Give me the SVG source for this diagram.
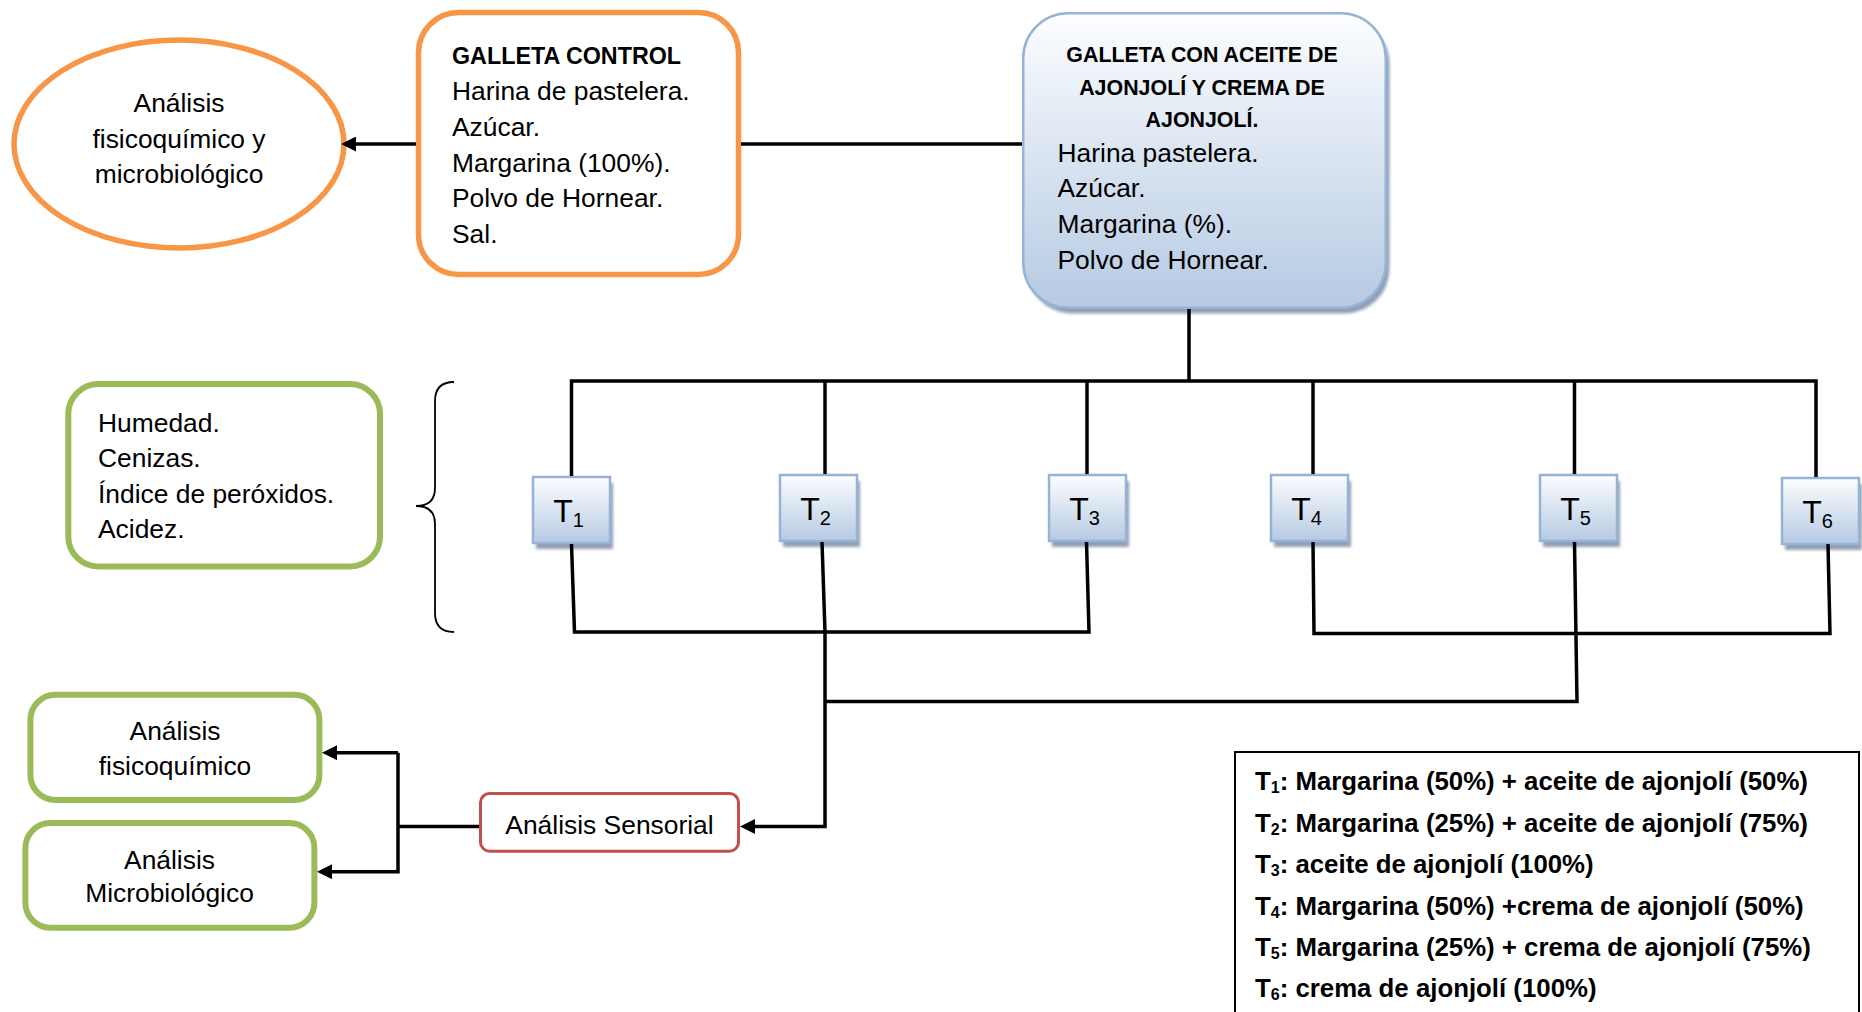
<svg xmlns="http://www.w3.org/2000/svg" width="1862" height="1012" viewBox="0 0 1862 1012">
<defs>
<linearGradient id="blueGrad" x1="0" y1="0" x2="0" y2="1">
<stop offset="0" stop-color="#FDFEFF"/>
<stop offset="0.2" stop-color="#EEF3F9"/>
<stop offset="1" stop-color="#B6CAE3"/>
</linearGradient>
<filter id="blur" x="-10%" y="-10%" width="130%" height="130%">
<feGaussianBlur stdDeviation="1.5"/>
</filter>
<marker id="arr" markerWidth="17" markerHeight="15" refX="3" refY="7.5" orient="auto" markerUnits="userSpaceOnUse">
<path d="M0,0 L15,7.5 L0,15 z" fill="#000"/>
</marker>
<style>
.t{font-family:"Liberation Sans",Arial,sans-serif;font-size:26.4px;fill:#000}
.b{font-family:"Liberation Sans",Arial,sans-serif;font-weight:bold;fill:#000}
.tl{font-family:"Liberation Sans",Arial,sans-serif;font-size:32px;fill:#000}
.orange{fill:#fff;stroke:#F79646;stroke-width:5.5}
.green{fill:#fff;stroke:#9BBB59;stroke-width:6}
.blue{fill:url(#blueGrad);stroke:#95B3D7;stroke-width:2.5}
.shadow{fill:#7F8FA6;opacity:0.85;filter:url(#blur)}
.c{fill:none;stroke:#000;stroke-width:3.5}
.ca{fill:none;stroke:#000;stroke-width:3.5;marker-end:url(#arr)}
</style>
</defs>
<rect width="1862" height="1012" fill="#fff"/>

<g id="n-ellipse">
<ellipse class="orange" cx="179" cy="144" rx="165" ry="104"/>
<text class="t" text-anchor="middle"><tspan x="179" y="111.5">Análisis</tspan><tspan x="179" y="147.5">fisicoquímico y</tspan><tspan x="179" y="183">microbiológico</tspan></text>
</g>

<g id="n-control">
<rect class="orange" x="418.5" y="12.5" width="320" height="262" rx="40"/>
<text class="b" x="452" y="64" font-size="23.3">GALLETA CONTROL</text>
<text class="t"><tspan x="452" y="100">Harina de pastelera.</tspan><tspan x="452" y="136">Azúcar.</tspan><tspan x="452" y="171.5">Margarina (100%).</tspan><tspan x="452" y="207.3">Polvo de Hornear.</tspan><tspan x="452" y="243">Sal.</tspan></text>
</g>

<g id="n-ajonjoli">
<rect class="shadow" x="1027" y="19" width="362.5" height="294.5" rx="45"/>
<rect class="blue" x="1023.25" y="13.25" width="362.5" height="294.5" rx="45"/>
<text class="b" font-size="21.4" text-anchor="middle"><tspan x="1202" y="62">GALLETA CON ACEITE DE</tspan><tspan x="1202" y="94.5">AJONJOLÍ Y CREMA DE</tspan><tspan x="1202" y="127">AJONJOLÍ.</tspan></text>
<text class="t"><tspan x="1057.5" y="161.5">Harina pastelera.</tspan><tspan x="1057.5" y="197.3">Azúcar.</tspan><tspan x="1057.5" y="233.3">Margarina (%).</tspan><tspan x="1057.5" y="268.7">Polvo de Hornear.</tspan></text>
</g>

<g id="n-humedad">
<rect class="green" x="68.3" y="384" width="311.7" height="182.5" rx="30"/>
<text class="t"><tspan x="98" y="431.7">Humedad.</tspan><tspan x="98" y="467.3">Cenizas.</tspan><tspan x="98" y="502.7">Índice de peróxidos.</tspan><tspan x="98" y="538.3">Acidez.</tspan></text>
</g>

<g id="n-brace">
<path d="M454,382 Q435,382 435,401 L435,488 Q435,506 416,506 Q435,506 435,524 L435,613 Q435,632 454,632" fill="none" stroke="#000" stroke-width="1.8"/>
</g>

<g id="n-t1">
<rect class="shadow" x="536" y="483" width="77" height="66"/>
<rect class="blue" x="533" y="477" width="77" height="66" stroke-width="2"/>
<text class="tl" x="568.5" y="522" text-anchor="middle">T<tspan font-size="20" dy="5">1</tspan></text>
</g>
<g id="n-t2">
<rect class="shadow" x="783" y="481" width="77" height="66"/>
<rect class="blue" x="780" y="475" width="77" height="66" stroke-width="2"/>
<text class="tl" x="815.5" y="520" text-anchor="middle">T<tspan font-size="20" dy="5">2</tspan></text>
</g>
<g id="n-t3">
<rect class="shadow" x="1052" y="481" width="77" height="66"/>
<rect class="blue" x="1049" y="475" width="77" height="66" stroke-width="2"/>
<text class="tl" x="1084.5" y="520" text-anchor="middle">T<tspan font-size="20" dy="5">3</tspan></text>
</g>
<g id="n-t4">
<rect class="shadow" x="1274" y="481" width="77" height="66"/>
<rect class="blue" x="1271" y="475" width="77" height="66" stroke-width="2"/>
<text class="tl" x="1306.5" y="520" text-anchor="middle">T<tspan font-size="20" dy="5">4</tspan></text>
</g>
<g id="n-t5">
<rect class="shadow" x="1543" y="481" width="77" height="66"/>
<rect class="blue" x="1540" y="475" width="77" height="66" stroke-width="2"/>
<text class="tl" x="1575.5" y="520" text-anchor="middle">T<tspan font-size="20" dy="5">5</tspan></text>
</g>
<g id="n-t6">
<rect class="shadow" x="1785" y="484" width="77" height="66"/>
<rect class="blue" x="1782" y="478" width="77" height="66" stroke-width="2"/>
<text class="tl" x="1817.5" y="523" text-anchor="middle">T<tspan font-size="20" dy="5">6</tspan></text>
</g>

<g id="n-fisico">
<rect class="green" x="30.4" y="694.7" width="289" height="105.3" rx="25"/>
<text class="t" text-anchor="middle"><tspan x="175" y="740">Análisis</tspan><tspan x="175" y="775">fisicoquímico</tspan></text>
</g>

<g id="n-micro">
<rect class="green" x="25.4" y="823" width="289" height="104.7" rx="25"/>
<text class="t" text-anchor="middle"><tspan x="169.5" y="868.5">Análisis</tspan><tspan x="169.5" y="902">Microbiológico</tspan></text>
</g>

<g id="n-sensorial">
<rect x="480.5" y="793.5" width="258" height="57.7" rx="9" fill="#fff" stroke="#C0504D" stroke-width="3"/>
<text class="t" x="609.5" y="834" text-anchor="middle">Análisis Sensorial</text>
</g>

<g id="n-legend">
<rect x="1235" y="752" width="624" height="280" fill="#fff" stroke="#000" stroke-width="2"/>
<text class="b" font-size="25.8">
<tspan x="1255" y="790">T</tspan><tspan font-size="16" dy="3">1</tspan><tspan dy="-3">: Margarina (50%) + aceite de ajonjolí (50%)</tspan>
<tspan x="1255" y="831.5">T</tspan><tspan font-size="16" dy="3">2</tspan><tspan dy="-3">: Margarina (25%) + aceite de ajonjolí (75%)</tspan>
<tspan x="1255" y="873">T</tspan><tspan font-size="16" dy="3">3</tspan><tspan dy="-3">: aceite de ajonjolí (100%)</tspan>
<tspan x="1255" y="914.5">T</tspan><tspan font-size="16" dy="3">4</tspan><tspan dy="-3">: Margarina (50%) +crema de ajonjolí (50%)</tspan>
<tspan x="1255" y="956">T</tspan><tspan font-size="16" dy="3">5</tspan><tspan dy="-3">: Margarina (25%) + crema de ajonjolí (75%)</tspan>
<tspan x="1255" y="997">T</tspan><tspan font-size="16" dy="3">6</tspan><tspan dy="-3">: crema de ajonjolí (100%)</tspan>
</text>
</g>

<g id="connectors">
<path class="ca" d="M416,144 H353"/>
<path class="c" d="M741,144 H1022"/>
<path class="c" d="M1189,309 V381"/>
<path class="c" d="M571.5,476 V381 H1816 V477"/>
<path class="c" d="M825,381 V474"/>
<path class="c" d="M1087,381 V474"/>
<path class="c" d="M1313,381 V474"/>
<path class="c" d="M1574.5,381 V474"/>
<path class="c" d="M571.5,544 L574.5,632 H1089 L1086.5,542"/>
<path class="c" d="M822,542 L825,632"/>
<path class="ca" d="M825,632 V826.5 H752"/>
<path class="c" d="M825,701.5 H1577 L1574.5,542"/>
<path class="c" d="M1313,542 L1314,633.5 H1830 L1828,544"/>
<path class="c" d="M479,826.5 H398"/>
<path class="ca" d="M398,752.7 H334"/>
<path class="ca" d="M398,752.7 V871.7 H329"/>
</g>
</svg>
